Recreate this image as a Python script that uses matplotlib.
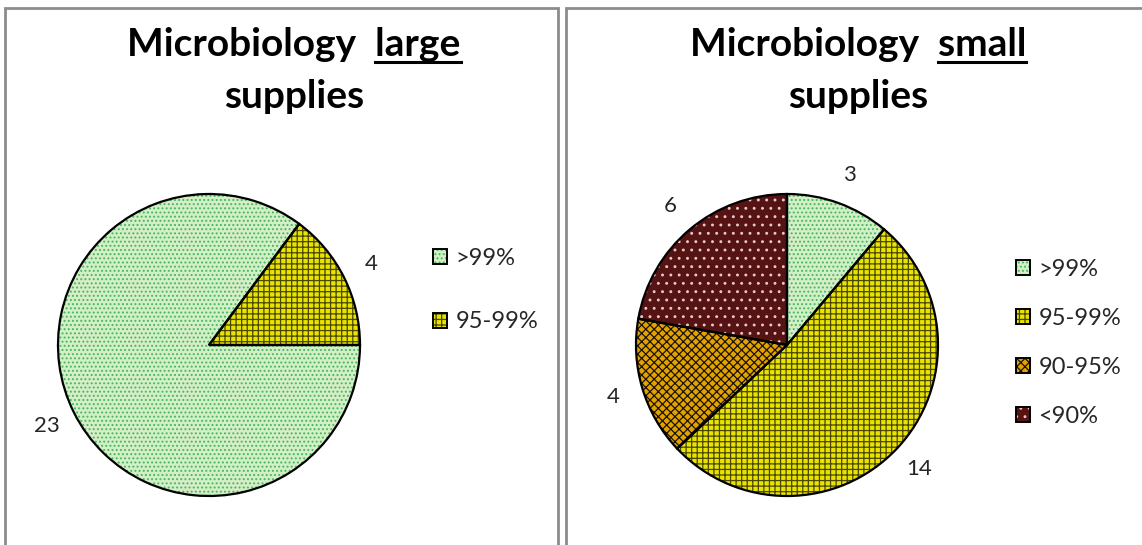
import matplotlib
matplotlib.use("Agg")
import matplotlib.pyplot as plt
import matplotlib.patches as mpatches

plt.rcParams['font.family'] = ['Lato', 'DejaVu Sans']
plt.rcParams['hatch.linewidth'] = 0.9

# data
large_labels = [">99%", "95-99%"]
large_values = [23, 4]
small_labels = [">99%", "95-99%", "90-95%", "<90%"]
small_values = [3, 14, 4, 6]

# fill style per category: face, hatch colour, hatch
face = {">99%": "#d4eec6", "95-99%": "#e8e400", "90-95%": "#e2a200", "<90%": "#561313"}
hcol = {">99%": "#45b862", "95-99%": "#4a4700", "90-95%": "#1a1200", "<90%": "#e8c8c8"}
hatch = {">99%": "....", "95-99%": "+++", "90-95%": "xxxx", "<90%": ".."}

W, H = 1142, 545
fig = plt.figure(figsize=(W / 100, H / 100), dpi=100)

# panel frames
for x0, x1 in [(5, 558), (566, 1150)]:
    fig.add_artist(mpatches.Rectangle((x0 / W, -0.1), (x1 - x0) / W, (H - 8) / H + 0.1,
                                      transform=fig.transFigure, fill=False,
                                      edgecolor="#8c8c8c", lw=2))


def draw_pie(cx, cy, r, labels, values, start, leg_x, leg_y, leg_space):
    ax = fig.add_axes([(cx - r) / W, (H - cy - r) / H, 2 * r / W, 2 * r / H])
    wedges, _ = ax.pie(values, startangle=start, counterclock=False, radius=1,
                       colors=[face[l] for l in labels])
    for w, l in zip(wedges, labels):
        w.set_edgecolor(hcol[l])
        w.set_linewidth(0)
        w.set_hatch(hatch[l])
    # outline + value labels
    _, _, txts = ax.pie(values, startangle=start, counterclock=False, radius=1,
                        autopct=lambda p: "%d" % round(p * sum(values) / 100),
                        pctdistance=1.2,
                        wedgeprops=dict(fill=False, edgecolor="black", lw=1.6),
                        textprops=dict(fontsize=16, color="#262626"))
    ax.set_xlim(-1, 1)
    ax.set_ylim(-1, 1)
    ax.axis("off")
    for t in txts:
        t.set_clip_on(False)

    handles = []
    for l in labels:
        handles.append((mpatches.Patch(facecolor=face[l], edgecolor=hcol[l], hatch=hatch[l], lw=0),
                        mpatches.Patch(fill=False, edgecolor="black", lw=1.4)))
    fig.legend(handles, labels, loc="upper left",
               bbox_to_anchor=(leg_x / W, 1 - leg_y / H), frameon=False,
               fontsize=17, handlelength=0.6, handleheight=0.6, handletextpad=0.35,
               labelspacing=leg_space, borderaxespad=0, borderpad=0,
               labelcolor="#262626")


draw_pie(209, 345, 151, large_labels, large_values, 0, 433, 248, 1.8)
draw_pie(787, 345, 151, small_labels, small_values, 90, 1016, 259, 1.18)


def title(cx, word):
    fs = 28
    t1 = fig.text(cx / W, 1 - 45 / H, "Microbiology  " + word, ha="center", va="center",
                  fontsize=fs, fontweight="bold")
    fig.text(cx / W, 1 - 96 / H, "supplies", ha="center", va="center",
             fontsize=fs, fontweight="bold")
    fig.canvas.draw()
    rend = fig.canvas.get_renderer()
    bb = t1.get_window_extent(rend)
    tw = fig.text(0, 0, word, fontsize=fs, fontweight="bold")
    wbb = tw.get_window_extent(rend)
    tw.remove()
    y = bb.y0 + 1
    fig.add_artist(plt.Line2D([(bb.x1 - wbb.width) / W, bb.x1 / W], [y / H, y / H],
                              transform=fig.transFigure, color="black", lw=2.2))


title(294, "large")
title(858, "small")

fig.savefig("out.png", dpi=100)
